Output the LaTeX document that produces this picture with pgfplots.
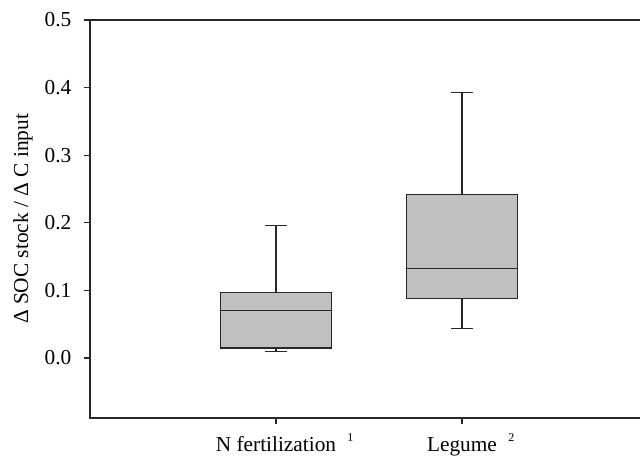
\documentclass[border=0pt]{standalone}
\usepackage{pgfplots}
\pgfplotsset{compat=1.18}
\usepackage{fontspec}
\setmainfont{Liberation Serif}
\definecolor{boxgray}{RGB}{192,192,192}
\definecolor{linegray}{RGB}{40,40,40}
\newcommand{\supr}[1]{\rlap{\hspace{8.5pt}\smash{\raisebox{7.5pt}{\fontsize{9}{10}\selectfont #1}}}}
\pgfplotsset{bx/.style={draw=linegray, line width=0.8pt, mark=none, solid}}
\begin{document}
\begin{tikzpicture}
\begin{axis}[
  at={(0pt,0pt)}, anchor=south west,
  scale only axis, width=418.5pt, height=298.5pt,
  xmin=0, xmax=3, ymin=-0.0888, ymax=0.5,
  xtick={1,2},
  xticklabels={N fertilization\supr{1}, Legume\supr{2}},
  ytick={0,0.1,0.2,0.3,0.4,0.5},
  ticklabel style={font=\fontsize{16}{19}\selectfont},
  yticklabel style={xshift=-6pt, /pgf/number format/.cd, fixed, fixed zerofill, precision=1},
  /pgf/number format/assume math mode=true,
  xticklabel style={anchor=base, yshift=-21pt},
  tick align=outside, major tick length=4.5pt,
  xtick pos=bottom, ytick pos=left,
  axis line style={line width=0.8pt, draw=linegray},
  tick style={line width=0.8pt, draw=linegray},
  clip=false,
]
% N fertilization: lw 0.0093, q1 0.0148, med 0.070, q3 0.0966, uw 0.1957
\addplot[bx] coordinates {(1,0.0966) (1,0.1957)};
\addplot[bx] coordinates {(0.94,0.1957) (1.06,0.1957)};
\addplot[bx] coordinates {(1,0.0148) (1,0.0093)};
\addplot[bx] coordinates {(0.94,0.0093) (1.06,0.0093)};
\addplot[bx, fill=boxgray] coordinates {(0.7,0.0148) (1.3,0.0148) (1.3,0.0966) (0.7,0.0966) (0.7,0.0148)};
\addplot[bx] coordinates {(0.7,0.070) (1.3,0.070)};
% Legume: lw 0.0433, q1 0.0873, med 0.1327, q3 0.2416, uw 0.393
\addplot[bx] coordinates {(2,0.2416) (2,0.393)};
\addplot[bx] coordinates {(1.94,0.393) (2.06,0.393)};
\addplot[bx] coordinates {(2,0.0873) (2,0.0433)};
\addplot[bx] coordinates {(1.94,0.0433) (2.06,0.0433)};
\addplot[bx, fill=boxgray] coordinates {(1.7,0.0873) (2.3,0.0873) (2.3,0.2416) (1.7,0.2416) (1.7,0.0873)};
\addplot[bx] coordinates {(1.7,0.1327) (2.3,0.1327)};
\node[rotate=90, font=\fontsize{16}{19}\selectfont] at (axis description cs:-0.1201,0.5) {Δ SOC stock / Δ C input};
\end{axis}
\pgfresetboundingbox
\path (-67.5pt,-29.25pt) rectangle (412.5pt,313.5pt);
\end{tikzpicture}
\end{document}
